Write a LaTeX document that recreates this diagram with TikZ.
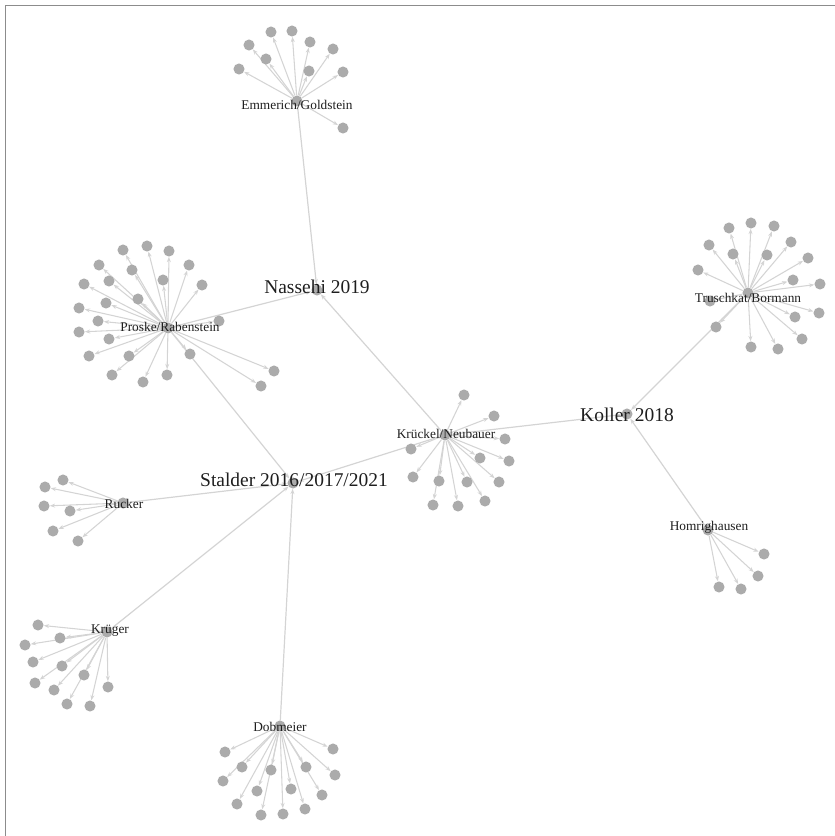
\documentclass[tikz,border=0pt]{standalone}
\usepackage{fontspec}
\setmainfont{Liberation Serif}
\usetikzlibrary{arrows.meta}
\definecolor{dotgrey}{HTML}{ABABAB}
\definecolor{edgegrey}{HTML}{D4D4D4}
\definecolor{txt}{HTML}{1E1E1E}
\definecolor{framegrey}{HTML}{8C8C8C}
\pgfdeclarelayer{edgelayer}
\pgfsetlayers{edgelayer,main}
\newcommand\leafcluster[2]{%
  \foreach \px/\py [count=\i] in {#2} {
    \node[dot] (#1\i) at (\px,\py) {};
    \begin{pgfonlayer}{edgelayer}
      \draw[leafedge] (#1) -- (#1\i);
    \end{pgfonlayer}
  }}
\begin{document}
\begin{tikzpicture}[x=0.75pt,y=-0.75pt,
  dot/.style={circle,fill=dotgrey,draw=none,minimum size=8.3pt,inner sep=0pt},
  leafedge/.style={draw=edgegrey,line width=0.8pt,-{Stealth[length=4pt,width=3pt]}},
  hubedge/.style={draw=edgegrey,line width=0.9pt,-{Stealth[length=4pt,width=3pt]}},
  small/.style={font=\fontsize{10}{12}\selectfont,text=txt,inner sep=0pt},
  big/.style={font=\fontsize{14.6}{17}\selectfont,text=txt,inner sep=0pt}]
\useasboundingbox (0,0) rectangle (835,836);
\coordinate (fa) at (5,836);
\coordinate (fb) at (5,5);
\coordinate (fc) at (835,5);
\draw[framegrey,line width=0.75pt] (fa) -- (fb) -- (fc);

% hub dots
\node[dot] (N)  at (317,290) {};
\node[dot] (K)  at (627,414) {};
\node[dot] (S)  at (293,483) {};
\node[dot] (KN) at (445,435) {};
\node[dot] (P)  at (168,328) {};
\node[dot] (E)  at (297,101) {};
\node[dot] (T)  at (748,293) {};
\node[dot] (R)  at (123,503) {};
\node[dot] (KG) at (107,632) {};
\node[dot] (D)  at (280,726) {};
\node[dot] (H)  at (708,530) {};

% hub-to-hub edges
\begin{pgfonlayer}{edgelayer}
\draw[hubedge] (E) -- (N);
\draw[hubedge] (P) -- (N);
\draw[hubedge] (KN) -- (N);
\draw[hubedge] (KN) -- (K);
\draw[hubedge] (T) -- (K);
\draw[hubedge] (H) -- (K);
\draw[hubedge] (P) -- (S);
\draw[hubedge] (KN) -- (S);
\draw[hubedge] (R) -- (S);
\draw[hubedge] (KG) -- (S);
\draw[hubedge] (D) -- (S);
\end{pgfonlayer}

% leaves
\leafcluster{E}{271/32,292/31,249/45,310/42,333/49,266/59,239/69,309/71,343/72,343/128}
\leafcluster{P}{123/250,147/246,169/251,99/265,189/265,132/270,109/281,163/280,84/284,202/285,138/299,106/303,79/308,98/321,219/321,79/332,109/339,89/356,129/356,190/354,112/375,143/382,167/375,274/371,261/386}
\leafcluster{T}{729/228,751/223,774/226,709/245,791/242,733/254,767/255,808/258,698/270,793/280,820/284,710/301,795/317,819/313,716/327,802/339,751/347,778/349}
\leafcluster{KN}{464/395,494/416,505/439,411/449,480/458,509/461,413/477,439/481,467/482,499/482,433/505,458/506,485/501}
\leafcluster{R}{63/480,45/487,44/506,70/511,53/531,78/541}
\leafcluster{KG}{38/625,60/638,25/645,33/662,62/666,84/675,35/683,108/687,54/690,67/704,90/706}
\leafcluster{D}{225/752,333/749,242/767,271/770,306/767,335/775,223/781,257/791,291/789,322/795,237/804,261/815,283/814,305/809}
\leafcluster{H}{764/554,758/576,719/587,741/589}

% labels
\node[big]   (lN)  at (317,287) {Nassehi 2019};
\node[big]   (lK)  at (627,415) {Koller 2018};
\node[big]   (lS)  at (294,480) {Stalder 2016/2017/2021};
\node[small] (lKN) at (446,434) {Krückel/Neubauer};
\node[small] (lP)  at (170,327) {Proske/Rabenstein};
\node[small] (lE)  at (297,105) {Emmerich/Goldstein};
\node[small] (lT)  at (748,298) {Truschkat/Bormann};
\node[small] (lR)  at (124,504) {Rucker};
\node[small] (lKG) at (110,631) {Krüger};
\node[small] (lD)  at (280,727) {Dobmeier};
\node[small] (lH)  at (709,527) {Homrighausen};
\end{tikzpicture}
\end{document}
